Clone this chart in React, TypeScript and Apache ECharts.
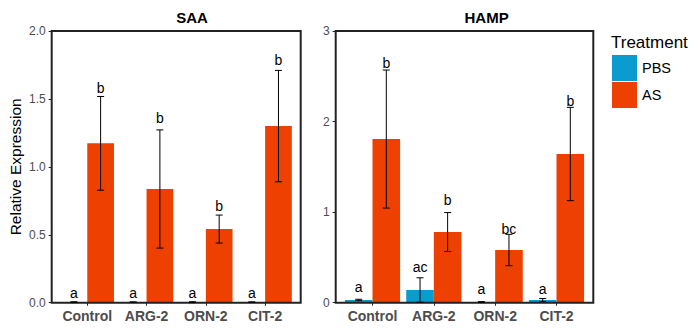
import React, { useEffect, useRef } from "react";
import * as echarts from "echarts";

// Group labels along the x axis
const categories = ["Control", "ARG-2", "ORN-2", "CIT-2"];
const treatments = ["PBS", "AS"];

// SAA relative expression (mean and error) per group
const saaPBS = [0.004, 0.004, 0.004, 0.004];
const saaPBSErr = [0.003, 0.002, 0.003, 0.002];
const saaAS = [1.173, 0.837, 0.542, 1.3];
const saaASErr = [0.345, 0.435, 0.103, 0.41];
const saaPBSLetters = ["a", "a", "a", "a"];
const saaASLetters = ["b", "b", "b", "b"];
const saaPBSLetterY = [0.069, 0.069, 0.069, 0.069];
const saaASLetterY = [1.578, 1.357, 0.714, 1.785];

// HAMP relative expression (mean and error) per group
const hampPBS = [0.03, 0.14, 0.007, 0.03];
const hampPBSErr = [0.008, 0.135, 0.005, 0.016];
const hampAS = [1.807, 0.78, 0.582, 1.642];
const hampASErr = [0.762, 0.215, 0.173, 0.515];
const hampPBSLetters = ["a", "ac", "a", "a"];
const hampASLetters = ["b", "b", "bc", "b"];
const hampPBSLetterY = [0.177, 0.398, 0.155, 0.155];
const hampASLetterY = [2.643, 1.134, 0.81, 2.23];

// Axis tick values
const saaTicks = [0, 0.5, 1.0, 1.5, 2.0];
const hampTicks = [0, 1, 2, 3];

const COLORS = ["#0A9BCF", "#EE4000"];
const FONT = "Liberation Sans, Arial, sans-serif";
const GREY = "#4D4D4D";

type Panel = {
  title: string;
  frame: { left: number; right: number; top: number; bottom: number };
  ticks: number[];
  digits: number;
  means: number[][];
  errs: number[][];
  letters: string[][];
  letterY: number[][];
};

const panels: Panel[] = [
  {
    title: "SAA",
    frame: { left: 51.7, right: 300.7, top: 31, bottom: 302.7 },
    ticks: saaTicks,
    digits: 1,
    means: [saaPBS, saaAS],
    errs: [saaPBSErr, saaASErr],
    letters: [saaPBSLetters, saaASLetters],
    letterY: [saaPBSLetterY, saaASLetterY],
  },
  {
    title: "HAMP",
    frame: { left: 335.7, right: 593.3, top: 31, bottom: 302.7 },
    ticks: hampTicks,
    digits: 0,
    means: [hampPBS, hampAS],
    errs: [hampPBSErr, hampASErr],
    letters: [hampPBSLetters, hampASLetters],
    letterY: [hampPBSLetterY, hampASLetterY],
  },
];

function buildOption() {
  const grid: any[] = [];
  const xAxis: any[] = [];
  const yAxis: any[] = [];
  const series: any[] = [];
  const graphic: any[] = [];

  panels.forEach((p, pi) => {
    const width = p.frame.right - p.frame.left;
    // discrete axis expanded by 0.6 on each side (range 0.4 .. 4.6)
    const unit = width / (categories.length + 0.2);
    const yMin = p.ticks[0];
    const yMax = p.ticks[p.ticks.length - 1];
    const interval = p.ticks[1] - p.ticks[0];

    // frame grid: border and y axis
    grid.push({
      left: p.frame.left,
      width,
      top: p.frame.top,
      height: p.frame.bottom - p.frame.top,
      show: true,
      borderColor: "#222",
      borderWidth: 2,
      backgroundColor: "transparent",
      z: 5,
    });
    const frameIdx = grid.length - 1;
    xAxis.push({ gridIndex: frameIdx, type: "value", show: false, min: 0, max: 1 });
    yAxis.push({
      gridIndex: frameIdx,
      type: "value",
      min: yMin,
      max: yMax,
      interval,
      axisLine: { show: false },
      axisTick: { show: true, length: 3, lineStyle: { color: "#222", width: 1 } },
      splitLine: { show: false },
      axisLabel: {
        margin: 6,
        color: GREY,
        fontFamily: FONT,
        fontSize: 12,
        formatter: (v: number) => v.toFixed(p.digits),
      },
      name: pi === 0 ? "Relative Expression" : "",
      nameLocation: "middle",
      nameGap: 28,
      nameTextStyle: { fontFamily: FONT, fontSize: 15.5, color: "#000" },
    });

    // bar grid: category band spans 0.5 .. 4.5
    grid.push({
      left: p.frame.left + 0.1 * unit,
      width: categories.length * unit,
      top: p.frame.top,
      height: p.frame.bottom - p.frame.top,
    });
    const barIdx = grid.length - 1;
    xAxis.push({
      gridIndex: barIdx,
      type: "category",
      data: categories,
      axisLine: { show: false },
      axisTick: { show: true, alignWithLabel: true, length: 3, lineStyle: { color: "#222" } },
      axisLabel: {
        margin: 6,
        color: GREY,
        fontFamily: FONT,
        fontSize: 14,
        fontWeight: "bold",
        interval: 0,
      },
    });
    yAxis.push({ gridIndex: barIdx, type: "value", min: yMin, max: yMax, show: false });

    treatments.forEach((t, ti) => {
      series.push({
        type: "bar",
        name: t,
        xAxisIndex: barIdx,
        yAxisIndex: barIdx,
        data: p.means[ti],
        barGap: "0%",
        barCategoryGap: "10%",
        itemStyle: { color: COLORS[ti] },
      });
    });

    treatments.forEach((t, ti) => {
      const data = categories.map((_, ci) => [
        ci,
        p.means[ti][ci],
        p.errs[ti][ci],
        p.letterY[ti][ci],
      ]);
      series.push({
        type: "custom",
        name: t + " error",
        xAxisIndex: barIdx,
        yAxisIndex: barIdx,
        z: 10,
        data,
        renderItem: (params: any, api: any) => {
          const ci = api.value(0);
          const mean = api.value(1);
          const err = api.value(2);
          const ly = api.value(3);
          const band = api.size([1, 0])[0];
          const c = api.coord([ci, mean]);
          const x = c[0] + (ti === 0 ? -1 : 1) * band * 0.225;
          const top = api.coord([ci, mean + err])[1];
          const bot = api.coord([ci, Math.max(0, mean - err)])[1];
          const cap = 3.5;
          const ls = { stroke: "#000", lineWidth: 1 };
          const letter = p.letters[ti][params.dataIndex];
          const lyPix = api.coord([ci, ly])[1];
          return {
            type: "group",
            children: [
              { type: "line", shape: { x1: x, y1: top, x2: x, y2: bot }, style: ls },
              { type: "line", shape: { x1: x - cap, y1: top, x2: x + cap, y2: top }, style: ls },
              { type: "line", shape: { x1: x - cap, y1: bot, x2: x + cap, y2: bot }, style: ls },
              {
                type: "text",
                style: {
                  text: letter,
                  x,
                  y: lyPix,
                  align: "center",
                  verticalAlign: "middle",
                  fill: "#000",
                  font: `14px ${FONT}`,
                },
              },
            ],
          };
        },
      });
    });

    graphic.push({
      type: "text",
      left: (p.frame.left + p.frame.right) / 2,
      top: 10,
      style: {
        text: p.title,
        fill: "#000",
        font: `bold 15px ${FONT}`,
        align: "center",
      },
    });
  });

  graphic.push({
    type: "text",
    left: 611,
    top: 34,
    style: { text: "Treatment", fill: "#000", font: `17px ${FONT}` },
  });

  return {
    animation: false,
    backgroundColor: "#fff",
    grid,
    xAxis,
    yAxis,
    series,
    graphic,
    legend: {
      orient: "vertical",
      left: 612,
      top: 55,
      padding: 0,
      itemWidth: 25,
      itemHeight: 26,
      itemGap: 1,
      icon: "rect",
      data: treatments,
      selectedMode: false,
      textStyle: { fontFamily: FONT, fontSize: 14.5, color: "#000", padding: [5, 0, 0, 0] },
    },
  };
}

export default function App() {
  const ref = useRef<HTMLDivElement>(null);
  useEffect(() => {
    if (!ref.current) return;
    const chart = echarts.init(ref.current, undefined, { renderer: "svg" });
    chart.setOption(buildOption() as any);
    return () => chart.dispose();
  }, []);
  return (
    <div
      ref={ref}
      style={{ position: "fixed", left: 0, top: 0, width: 698, height: 333 }}
    />
  );
}
